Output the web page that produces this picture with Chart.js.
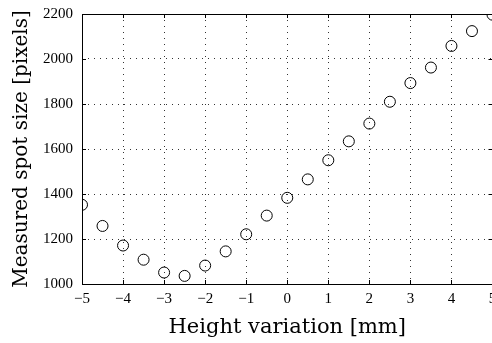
<!DOCTYPE html>
<html>
<head>
<meta charset="utf-8">
<script src="https://cdn.jsdelivr.net/npm/chart.js@4.4.1/dist/chart.umd.min.js"></script>
<style>
html,body{margin:0;padding:0;background:#fff;overflow:hidden;}
#wrap{width:492px;height:343px;position:relative;overflow:hidden;}
</style>
</head>
<body>
<div id="wrap"><canvas id="c" width="499" height="343"></canvas></div>
<script>
const heights = [-5, -4.5, -4, -3.5, -3, -2.5, -2, -1.5, -1, -0.5, 0, 0.5, 1, 1.5, 2, 2.5, 3, 3.5, 4, 4.5, 5];
const spotSizes = [1352, 1258, 1171, 1108, 1051, 1036, 1082, 1145, 1221, 1304, 1383, 1465, 1550, 1634, 1713, 1810, 1893, 1962, 2058, 2124, 2197];
const xTicks = [-5, -4, -3, -2, -1, 0, 1, 2, 3, 4, 5];
const yTicks = [1000, 1200, 1400, 1600, 1800, 2000, 2200];
const xTitle = 'Height variation [mm]';
const yTitle = 'Measured spot size [pixels]';

const points = heights.map((h, i) => ({x: h, y: spotSizes[i]}));
const serif = '"Liberation Serif", "DejaVu Serif", serif';
const titleFont = '"DejaVu Serif", serif';

const boxPlugin = {
  id: 'box',
  afterDatasetsDraw(chart) {
    const {ctx, chartArea: a, scales: {x, y}} = chart;
    ctx.save();
    ctx.strokeStyle = '#000';
    ctx.lineWidth = 1;
    ctx.beginPath();
    const L = 4;
    xTicks.forEach(v => {
      const px = Math.round(x.getPixelForValue(v)) + 0.5;
      ctx.moveTo(px, a.bottom); ctx.lineTo(px, a.bottom - L);
      ctx.moveTo(px, a.top); ctx.lineTo(px, a.top + L);
    });
    yTicks.forEach(v => {
      const py = Math.round(y.getPixelForValue(v)) + 0.5;
      ctx.moveTo(a.left, py); ctx.lineTo(a.left + L, py);
      ctx.moveTo(a.right, py); ctx.lineTo(a.right - L, py);
    });
    ctx.stroke();
    ctx.beginPath();
    ctx.rect(Math.round(a.left) + 0.5, Math.round(a.top) + 0.5, Math.round(a.right - a.left), Math.round(a.bottom - a.top));
    ctx.stroke();
    ctx.restore();
  }
};

new Chart(document.getElementById('c'), {
  type: 'scatter',
  data: {
    datasets: [{
      data: points,
      pointStyle: 'circle',
      pointRadius: 5.5,
      pointHoverRadius: 5.5,
      pointBorderWidth: 1,
      pointBorderColor: '#000',
      pointBackgroundColor: 'rgba(0,0,0,0)'
    }]
  },
  options: {
    responsive: false,
    animation: false,
    events: [],
    layout: {padding: {left: 0, top: 14, right: 0, bottom: 0}},
    plugins: {legend: {display: false}, tooltip: {enabled: false}},
    scales: {
      x: {
        type: 'linear', min: -5, max: 5,
        afterBuildTicks: s => { s.ticks = xTicks.map(v => ({value: v})); },
        afterFit: s => { s.height = 59; s.paddingLeft = 0; s.paddingRight = 0; },
        border: {display: false, dash: [1, 5]},
        grid: {color: '#333', lineWidth: 1, drawTicks: false},
        ticks: {
          color: '#000', padding: 6, maxRotation: 0, autoSkip: false,
          font: {family: serif, size: 15},
          callback: v => String(v).replace('-', '\u2212')
        },
        title: {display: true, text: xTitle, color: '#000', font: {family: titleFont, size: 21}, padding: {top: 0, bottom: 3}}
      },
      y: {
        type: 'linear', min: 1000, max: 2200,
        afterBuildTicks: s => { s.ticks = yTicks.map(v => ({value: v})); },
        afterFit: s => { s.width = 82; s.paddingTop = 0; s.paddingBottom = 0; },
        border: {display: false, dash: [1, 5]},
        grid: {color: '#333', lineWidth: 1, drawTicks: false},
        ticks: {
          color: '#000', padding: 9, autoSkip: false,
          font: {family: serif, size: 15},
          callback: v => String(v)
        },
        title: {display: true, text: yTitle, color: '#000', font: {family: titleFont, size: 20}, padding: {top: 9.5, bottom: 0}}
      }
    }
  },
  plugins: [boxPlugin]
});
</script>
</body>
</html>
